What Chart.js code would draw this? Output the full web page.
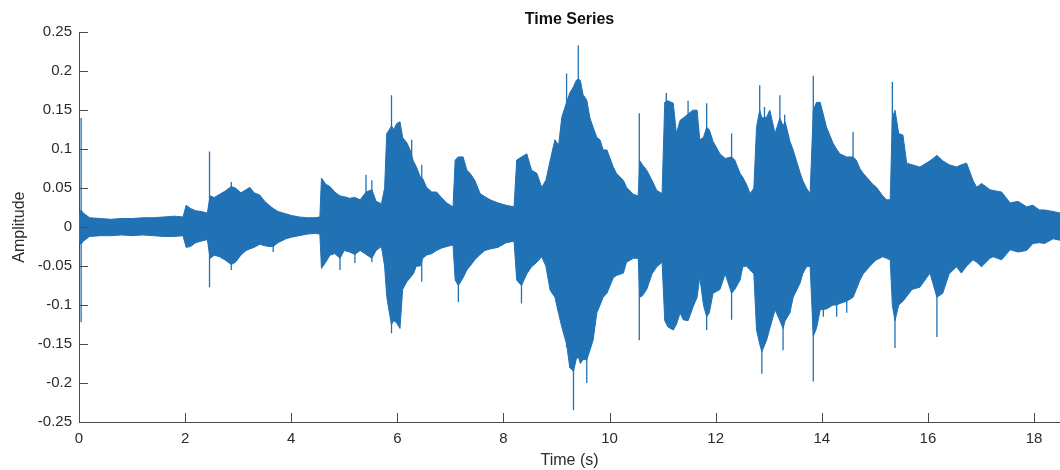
<!DOCTYPE html>
<html>
<head>
<meta charset="utf-8">
<title>Time Series</title>
<script src="https://cdn.jsdelivr.net/npm/chart.js@4.4.1/dist/chart.umd.min.js"></script>
<style>
  html, body { margin: 0; padding: 0; background: #ffffff; }
  #wrap { width: 1060px; height: 470px; }
</style>
</head>
<body>
<div id="wrap"><canvas id="chart" width="1060" height="470"></canvas></div>
<script>
// Envelope of the recorded signal: time (s), upper and lower amplitude bounds
const timeS = [
  0.00, 0.04, 0.08, 0.2, 0.4, 0.6, 0.8, 1.0, 1.2, 1.4, 1.6, 1.8, 1.96,
  2.02, 2.1, 2.2, 2.3, 2.42, 2.47, 2.55, 2.65, 2.75, 2.87, 2.95,
  3.05, 3.15, 3.22, 3.3, 3.41, 3.5, 3.6, 3.66, 3.75, 3.9,
  4.0, 4.15, 4.3, 4.45, 4.54, 4.57, 4.65, 4.73, 4.82, 4.92,
  5.0, 5.1, 5.2, 5.3, 5.41, 5.52, 5.6, 5.7, 5.76, 5.8, 5.85, 5.89, 5.93, 5.99,
  6.05, 6.1, 6.18, 6.24, 6.3, 6.36, 6.43, 6.48, 6.55, 6.65, 6.74, 6.83, 6.93,
  7.05, 7.09, 7.15, 7.24, 7.31, 7.37, 7.46, 7.56, 7.65, 7.75, 7.9,
  8.05, 8.2, 8.25, 8.34, 8.44, 8.53, 8.63, 8.72, 8.8, 8.88, 8.97,
  9.04, 9.1, 9.19, 9.25, 9.32, 9.37, 9.41, 9.45, 9.5, 9.57, 9.63, 9.69, 9.76, 9.82, 9.88, 9.95,
  10.07, 10.13, 10.26, 10.32, 10.45, 10.54, 10.57, 10.62, 10.7, 10.8, 10.89, 10.99,
  11.04, 11.1, 11.2, 11.26, 11.33, 11.39, 11.48, 11.57, 11.65, 11.7, 11.77, 11.83, 11.88, 11.95,
  12.08, 12.18, 12.3, 12.36, 12.46, 12.51, 12.58, 12.65, 12.72, 12.77, 12.83, 12.87, 12.96,
  13.02, 13.12, 13.21, 13.27, 13.31, 13.4, 13.46, 13.59, 13.64, 13.71, 13.78, 13.84, 13.9, 13.97,
  14.09, 14.21, 14.28, 14.34, 14.47, 14.59, 14.65, 14.72, 14.78, 14.96,
  15.03, 15.15, 15.22, 15.29, 15.33, 15.38, 15.45, 15.53, 15.6, 15.7, 15.85,
  16.04, 16.17, 16.28, 16.4, 16.54, 16.63, 16.73, 16.85, 16.92,
  17.01, 17.17, 17.23, 17.39, 17.55, 17.7, 17.86, 17.98,
  18.1, 18.2, 18.36, 18.5
];
const upperAmp = [
  0.016, 0.022, 0.018, 0.012, 0.011, 0.010, 0.011, 0.011, 0.012, 0.012, 0.013, 0.014, 0.013,
  0.028, 0.024, 0.021, 0.020, 0.018, 0.040, 0.038, 0.042, 0.046, 0.052, 0.050,
  0.044, 0.048, 0.051, 0.044, 0.041, 0.033, 0.027, 0.024, 0.020, 0.017,
  0.015, 0.013, 0.012, 0.012, 0.013, 0.063, 0.055, 0.052, 0.045, 0.040,
  0.039, 0.037, 0.038, 0.035, 0.045, 0.048, 0.033, 0.030, 0.050, 0.120, 0.125, 0.130, 0.125, 0.133,
  0.135, 0.115, 0.108, 0.099, 0.085, 0.077, 0.065, 0.062, 0.051, 0.045, 0.045, 0.038, 0.031,
  0.026, 0.086, 0.090, 0.090, 0.073, 0.069, 0.060, 0.043, 0.039, 0.035, 0.031,
  0.028, 0.026, 0.086, 0.090, 0.094, 0.073, 0.069, 0.051, 0.060, 0.085, 0.112,
  0.105, 0.141, 0.160, 0.172, 0.180, 0.188, 0.190, 0.188, 0.170, 0.163, 0.140, 0.128, 0.115, 0.112, 0.099, 0.099,
  0.077, 0.069, 0.060, 0.051, 0.042, 0.040, 0.085, 0.080, 0.073, 0.060, 0.047, 0.043,
  0.160, 0.162, 0.159, 0.120, 0.137, 0.140, 0.145, 0.150, 0.150, 0.112, 0.115, 0.128, 0.125, 0.110,
  0.094, 0.088, 0.090, 0.086, 0.069, 0.064, 0.055, 0.043, 0.050, 0.128, 0.150, 0.140, 0.141,
  0.150, 0.120, 0.140, 0.130, 0.135, 0.110, 0.099, 0.070, 0.060, 0.050, 0.043, 0.150, 0.160, 0.160,
  0.128, 0.108, 0.100, 0.094, 0.090, 0.090, 0.086, 0.075, 0.069, 0.055,
  0.051, 0.040, 0.035, 0.035, 0.140, 0.150, 0.120, 0.118, 0.082, 0.080, 0.077,
  0.085, 0.092, 0.085, 0.080, 0.077, 0.080, 0.082, 0.060, 0.051,
  0.056, 0.048, 0.047, 0.045, 0.031, 0.033, 0.026, 0.028,
  0.022, 0.022, 0.020, 0.018
];
const lowerAmp = [
  -0.018, -0.022, -0.018, -0.012, -0.011, -0.011, -0.010, -0.011, -0.010, -0.011, -0.012, -0.012, -0.011,
  -0.026, -0.025, -0.020, -0.018, -0.016, -0.040, -0.036, -0.038, -0.042, -0.048, -0.045,
  -0.036, -0.030, -0.028, -0.026, -0.022, -0.024, -0.025, -0.025, -0.020, -0.015,
  -0.013, -0.011, -0.009, -0.008, -0.009, -0.053, -0.045, -0.036, -0.034, -0.040,
  -0.030, -0.032, -0.035, -0.030, -0.035, -0.040, -0.030, -0.025, -0.050, -0.089, -0.110, -0.125, -0.120, -0.123,
  -0.130, -0.080, -0.070, -0.065, -0.060, -0.050, -0.050, -0.040, -0.036, -0.034, -0.030, -0.027, -0.025,
  -0.023, -0.068, -0.075, -0.065, -0.055, -0.050, -0.042, -0.035, -0.030, -0.028, -0.026,
  -0.020, -0.018, -0.068, -0.075, -0.060, -0.051, -0.045, -0.038, -0.050, -0.081, -0.090,
  -0.111, -0.128, -0.150, -0.180, -0.185, -0.170, -0.166, -0.175, -0.170, -0.170, -0.158, -0.145, -0.110, -0.100, -0.090, -0.085,
  -0.065, -0.062, -0.059, -0.045, -0.040, -0.040, -0.090, -0.088, -0.080, -0.060, -0.051, -0.045,
  -0.120, -0.128, -0.132, -0.125, -0.110, -0.119, -0.120, -0.103, -0.090, -0.064, -0.100, -0.115, -0.110, -0.085,
  -0.080, -0.060, -0.085, -0.080, -0.068, -0.051, -0.050, -0.055, -0.060, -0.132, -0.150, -0.160, -0.145,
  -0.130, -0.106, -0.120, -0.130, -0.120, -0.110, -0.090, -0.072, -0.060, -0.051, -0.050, -0.140, -0.130, -0.106,
  -0.105, -0.100, -0.100, -0.098, -0.095, -0.090, -0.080, -0.068, -0.060, -0.046,
  -0.042, -0.038, -0.040, -0.042, -0.100, -0.120, -0.100, -0.095, -0.089, -0.080, -0.077,
  -0.059, -0.090, -0.085, -0.060, -0.051, -0.059, -0.050, -0.042, -0.045,
  -0.051, -0.040, -0.038, -0.042, -0.029, -0.032, -0.030, -0.021,
  -0.020, -0.021, -0.015, -0.017
];

// Isolated transients that reach beyond the envelope
const spikeTimes = [
  0.04, 2.46, 2.87, 3.66, 4.92, 5.2, 5.41, 5.52, 5.89, 6.27, 6.46, 7.15,
  8.34, 9.19, 9.32, 9.41, 9.57, 10.56, 11.07, 11.48, 11.83, 12.3,
  12.83, 12.87, 12.92, 13.21, 13.27, 13.3, 13.84, 14.03, 14.28, 14.47, 14.59,
  15.33, 15.38, 16.17
];
const spikeUpper = [
  0.140, 0.097, 0.058, 0.000, 0.000, 0.000, 0.067, 0.060, 0.169, 0.112, 0.080, 0.000,
  0.000, 0.197, 0.000, 0.233, 0.000, 0.146, 0.172, 0.162, 0.159, 0.120,
  0.182, 0.000, 0.154, 0.169, 0.000, 0.144, 0.194, 0.000, 0.000, 0.000, 0.122,
  0.186, 0.000, 0.000
];
const spikeLower = [
  -0.122, -0.077, -0.055, -0.032, -0.055, -0.046, 0.000, -0.045, -0.136, 0.000, -0.070, -0.096,
  -0.098, -0.154, -0.235, 0.000, -0.200, -0.145, 0.000, 0.000, -0.132, -0.119,
  0.000, -0.188, 0.000, 0.000, -0.158, 0.000, -0.198, -0.115, -0.115, -0.110, 0.000,
  0.000, -0.155, -0.141
];

// Axis ticks
const xTickValues = [0, 2, 4, 6, 8, 10, 12, 14, 16, 18];
const xTickLabels = ['0', '2', '4', '6', '8', '10', '12', '14', '16', '18'];
const yTickValues = [-0.25, -0.2, -0.15, -0.1, -0.05, 0, 0.05, 0.1, 0.15, 0.2, 0.25];
const yTickLabels = ['-0.25', '-0.2', '-0.15', '-0.1', '-0.05', '0', '0.05', '0.1', '0.15', '0.2', '0.25'];

const WAVE = '#2171b5';
const AXIS = '#4a4a4a';
const TEXT = '#2b2b2b';
const FONT = "'Liberation Sans', Arial, Helvetica, sans-serif";

const upperData = timeS.map((t, i) => ({ x: t, y: upperAmp[i] }));
const lowerData = timeS.map((t, i) => ({ x: t, y: lowerAmp[i] }));
const spikeData = [];
spikeTimes.forEach((t, i) => {
  spikeData.push({ x: t, y: spikeLower[i] });
  spikeData.push({ x: t, y: spikeUpper[i] });
  spikeData.push({ x: t, y: null });
});

// Tick marks drawn inside the axes, pointing into the plot
const inwardTicks = {
  id: 'inwardTicks',
  afterDraw(chart) {
    const { ctx, chartArea, scales } = chart;
    const len = 9;
    ctx.save();
    ctx.strokeStyle = AXIS;
    ctx.lineWidth = 1;
    ctx.beginPath();
    xTickValues.forEach(v => {
      const px = Math.round(scales.x.getPixelForValue(v)) + 0.5;
      ctx.moveTo(px, chartArea.bottom);
      ctx.lineTo(px, chartArea.bottom - len);
    });
    yTickValues.forEach(v => {
      const py = Math.round(scales.y.getPixelForValue(v)) + 0.5;
      ctx.moveTo(chartArea.left, py);
      ctx.lineTo(chartArea.left + len, py);
    });
    ctx.stroke();
    ctx.restore();
  }
};

new Chart(document.getElementById('chart'), {
  type: 'line',
  data: {
    datasets: [
      {
        label: 'upper',
        data: upperData,
        borderColor: WAVE,
        backgroundColor: WAVE,
        borderWidth: 1,
        pointRadius: 0,
        tension: 0,
        fill: '+1'
      },
      {
        label: 'lower',
        data: lowerData,
        borderColor: WAVE,
        backgroundColor: WAVE,
        borderWidth: 1,
        pointRadius: 0,
        tension: 0,
        fill: false
      },
      {
        label: 'transients',
        data: spikeData,
        borderColor: WAVE,
        borderWidth: 1.3,
        pointRadius: 0,
        tension: 0,
        spanGaps: false,
        fill: false
      }
    ]
  },
  options: {
    responsive: false,
    animation: false,
    devicePixelRatio: 1,
    layout: { padding: { left: 0, right: 0, top: 0, bottom: 0 } },
    plugins: {
      legend: { display: false },
      tooltip: { enabled: false },
      title: {
        display: true,
        text: 'Time Series',
        fullSize: false,
        color: '#111',
        font: { family: FONT, size: 16, weight: 'bold' },
        padding: { top: 10, bottom: 3 }
      }
    },
    scales: {
      x: {
        type: 'linear',
        min: 0,
        max: 18.49,
        grid: { display: false, drawTicks: false },
        border: { display: true, color: AXIS, width: 1 },
        afterBuildTicks: s => { s.ticks = xTickValues.map(v => ({ value: v })); },
        afterFit: s => { s.height = 48; },
        ticks: {
          includeBounds: false,
          autoSkip: false,
          maxRotation: 0,
          padding: 8,
          color: TEXT,
          font: { family: FONT, size: 15 },
          callback: (v, i) => xTickLabels[i]
        },
        title: {
          display: true,
          text: 'Time (s)',
          color: TEXT,
          font: { family: FONT, size: 16 },
          padding: { top: 0, bottom: 0 }
        }
      },
      y: {
        type: 'linear',
        min: -0.25,
        max: 0.25,
        grid: { display: false, drawTicks: false },
        border: { display: true, color: AXIS, width: 1 },
        afterBuildTicks: s => { s.ticks = yTickValues.map(v => ({ value: v })); },
        afterFit: s => { s.width = 79; },
        ticks: {
          autoSkip: false,
          padding: 7,
          color: TEXT,
          font: { family: FONT, size: 15 },
          callback: (v, i) => yTickLabels[i]
        },
        title: {
          display: true,
          text: 'Amplitude',
          color: TEXT,
          font: { family: FONT, size: 16 },
          padding: { top: 10, bottom: 0 }
        }
      }
    }
  },
  plugins: [inwardTicks]
});
</script>
</body>
</html>
